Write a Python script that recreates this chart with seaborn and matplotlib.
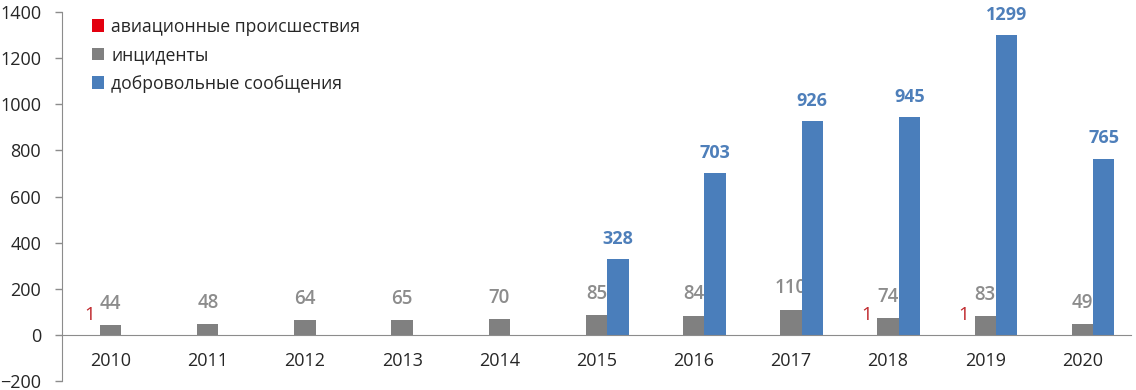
import pandas as pd
import matplotlib
matplotlib.use("Agg")
import matplotlib.pyplot as plt
import seaborn as sns
from matplotlib.patches import Patch

# data
years = ["2010", "2011", "2012", "2013", "2014", "2015", "2016", "2017", "2018", "2019", "2020"]
accidents = [1, 0, 0, 0, 0, 0, 0, 0, 1, 1, 0]
incidents = [44, 48, 64, 65, 70, 85, 84, 110, 74, 83, 49]
voluntary = [None, None, None, None, None, 328, 703, 926, 945, 1299, 765]
series_names = ["авиационные происшествия", "инциденты", "добровольные сообщения"]
colors = ["#e3000f", "#808080", "#4a7ebb"]


def main():
    df = pd.DataFrame({"year": years,
                       series_names[0]: accidents,
                       series_names[1]: incidents,
                       series_names[2]: voluntary})
    long_df = df.melt(id_vars="year", var_name="series", value_name="value")
    long_df["value"] = long_df["value"].fillna(0).astype(float)

    sns.set_style("white")
    plt.rcParams["font.family"] = ["Open Sans", "DejaVu Sans"]

    fig = plt.figure(figsize=(11.36, 3.9), dpi=100)
    ax = fig.add_axes([0.0546, 0.023, 0.941, 0.946])

    sns.barplot(data=long_df, x="year", y="value", hue="series",
                hue_order=series_names, palette=colors, order=years,
                width=0.66, linewidth=0, saturation=1, errorbar=None,
                legend=False, ax=ax)

    # data labels
    red_c, gray_c, blue_c = ax.containers[:3]
    ax.bar_label(red_c, labels=["1" if v == 1 else "" for v in accidents],
                 padding=8, color="#c0282d", fontsize=13.5)
    gl = ax.bar_label(gray_c, labels=[str(v) for v in incidents],
                      padding=8, color="#8c8c8c", fontsize=13.5, fontweight="semibold")
    for t in gl:
        t.set_zorder(0.5)
    ax.bar_label(blue_c, labels=["" if v is None else str(v) for v in voluntary],
                 padding=8, color="#4e7fba", fontsize=13, fontweight="bold")

    # axes styling (Excel look)
    ax.set_ylim(-200, 1400)
    ax.set_xlim(-0.5, len(years) - 0.5)
    ax.set_yticks(range(-200, 1401, 200))
    ax.set_xlabel("")
    ax.set_ylabel("")
    for side in ["top", "right"]:
        ax.spines[side].set_visible(False)
    ax.spines["left"].set_color("#8c8c8c")
    ax.spines["bottom"].set_color("#8c8c8c")
    ax.spines["bottom"].set_position(("data", 0))
    ax.set_xticks([i - 0.5 for i in range(len(years) + 1)], minor=True)
    ax.tick_params(axis="x", which="major", length=0, pad=12, labelsize=13)
    ax.tick_params(axis="x", which="minor", length=5, width=1, color="#8c8c8c", direction="out")
    ax.tick_params(axis="y", length=5, width=1, color="#8c8c8c", left=True, pad=10, labelsize=13)

    handles = [Patch(facecolor=c, edgecolor="none") for c in colors]
    ax.legend(handles, series_names, loc="upper left", bbox_to_anchor=(0.028, 0.985),
              frameon=False, fontsize=12.7, handlelength=0.7, handleheight=0.7,
              handletextpad=0.4, labelspacing=0.6, borderpad=0, borderaxespad=0)

    fig.savefig("out.png", dpi=100)
    plt.close(fig)


if __name__ == "__main__":
    main()
